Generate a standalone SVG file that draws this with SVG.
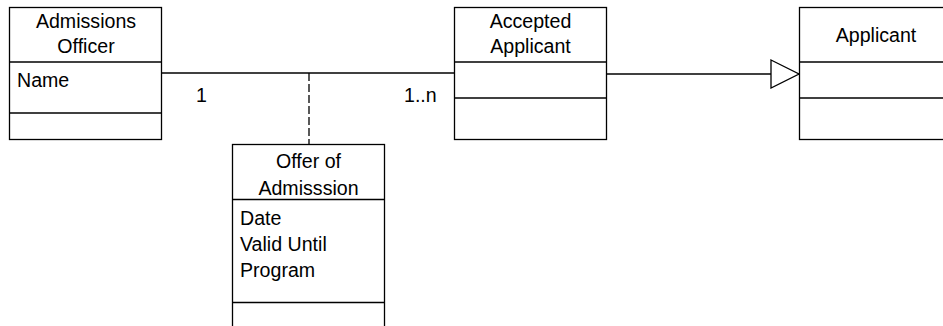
<svg xmlns="http://www.w3.org/2000/svg" width="943" height="326" viewBox="0 0 943 326">
  <style>
    .box { fill: #ffffff; stroke: #000000; stroke-width: 1.3; }
    .sep { stroke: #000000; stroke-width: 1.3; }
    .edge { fill: none; stroke: #000000; stroke-width: 1.3; }
    .dash { stroke-dasharray: 8 3; }
    text { font-family: "Liberation Sans", Arial, sans-serif; font-size: 19.6px; fill: #000000; }
    .c { text-anchor: middle; }
  </style>
  <defs>
    <marker id="generalization" viewBox="0 0 30 30" refX="29" refY="15" markerWidth="30" markerHeight="30" markerUnits="userSpaceOnUse" orient="auto">
      <path d="M1,1 L29,15 L1,29 Z" fill="#ffffff" stroke="#000000" stroke-width="1.3"/>
    </marker>
  </defs>

  <g id="connectors">
    <line class="edge" x1="162" y1="73" x2="455" y2="73"/>
    <line class="edge dash" x1="309" y1="73" x2="309" y2="144"/>
    <line class="edge" x1="607" y1="74" x2="799" y2="74" marker-end="url(#generalization)"/>
    <text x="196" y="102">1</text>
    <text x="404" y="102">1..n</text>
  </g>

  <g id="admissions-officer">
    <rect class="box" x="9.5" y="7.5" width="152" height="132"/>
    <line class="sep" x1="9.5" y1="62" x2="161.5" y2="62"/>
    <line class="sep" x1="9.5" y1="113" x2="161.5" y2="113"/>
    <text class="c" x="86" y="28">Admissions</text>
    <text class="c" x="86" y="53">Officer</text>
    <text x="17" y="87">Name</text>
  </g>

  <g id="accepted-applicant">
    <rect class="box" x="454.5" y="7.5" width="152" height="132"/>
    <line class="sep" x1="454.5" y1="62" x2="606.5" y2="62"/>
    <line class="sep" x1="454.5" y1="98" x2="606.5" y2="98"/>
    <text class="c" x="530.5" y="28">Accepted</text>
    <text class="c" x="530.5" y="53">Applicant</text>
  </g>

  <g id="applicant">
    <rect class="box" x="799.5" y="7.5" width="152" height="132"/>
    <line class="sep" x1="799.5" y1="62" x2="951.5" y2="62"/>
    <line class="sep" x1="799.5" y1="98" x2="951.5" y2="98"/>
    <text class="c" x="876" y="42">Applicant</text>
  </g>

  <g id="offer-of-admission">
    <rect class="box" x="232.5" y="144.5" width="152" height="200"/>
    <line class="sep" x1="232.5" y1="199.5" x2="384.5" y2="199.5"/>
    <line class="sep" x1="232.5" y1="302.5" x2="384.5" y2="302.5"/>
    <text class="c" x="308.5" y="168">Offer of</text>
    <text class="c" x="308.5" y="195">Admisssion</text>
    <text x="240" y="225">Date</text>
    <text x="240" y="251">Valid Until</text>
    <text x="240" y="277">Program</text>
  </g>
</svg>
